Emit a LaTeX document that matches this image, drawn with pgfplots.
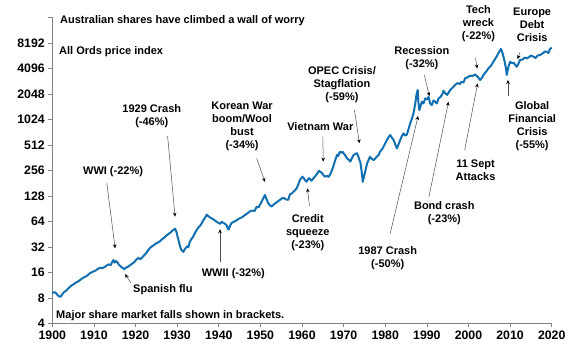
\documentclass[border=0pt]{standalone}
\usepackage{pgfplots}
\pgfplotsset{compat=1.18}
\usepackage{fontspec}
\setmainfont{Liberation Sans}
\usetikzlibrary{arrows.meta}
\definecolor{lineblue}{RGB}{18,112,176}
\definecolor{axgray}{RGB}{130,130,130}
\begin{document}
\begin{tikzpicture}[x=1pt,y=1pt]
\path[use as bounding box] (-52.3,-25.7) rectangle (517.7,323.3);
\begin{axis}[
  anchor=south west, at={(0,0)},
  scale only axis, width=499.4pt, height=306pt,
  xmin=1900, xmax=2020,
  ymode=log, log basis y=2,
  ymin=4, ymax=16384,
  axis lines*=left,
  axis line style={-,draw=axgray,line width=0.6pt},
  tick style={draw=axgray,line width=0.6pt},
  tick align=outside, major tick length=4pt,
  xtick={1900,1910,...,2020},
  xticklabels={1900,1910,1920,1930,1940,1950,1960,1970,1980,1990,2000,2010,2020},
  ytick={4,8,16,32,64,128,256,512,1024,2048,4096,8192,16384},
  yticklabels={4,8,16,32,64,128,256,512,1024,2048,4096,8192,{}},
  ticklabel style={font=\fontsize{12.3}{14}\selectfont\bfseries},
  minor tick num=0,
  clip=false,
]
\addplot[lineblue, line width=2pt, line join=round] coordinates {
(1900.0,9.06)(1900.4,9.32)(1900.8,9.19)(1901.2,8.69)(1901.6,8.34)(1902.0,8.22)
(1902.4,8.82)(1902.8,9.32)(1903.3,9.71)(1903.8,10.27)(1904.3,10.85)(1904.8,11.31)
(1905.2,11.63)(1905.7,12.13)(1906.2,12.47)(1906.7,13.00)(1907.2,13.55)(1907.6,13.93)
(1908.1,14.32)(1908.6,14.93)(1909.0,15.56)(1909.5,16.0)(1910.0,16.45)(1910.5,16.91)
(1911.0,17.63)(1911.5,18.13)(1912.0,17.88)(1912.5,18.38)(1913.0,19.16)(1913.5,19.84)
(1914.0,19.43)(1914.4,21.11)(1914.7,22.32)(1915.0,20.82)(1915.3,21.71)(1915.6,21.11)
(1916.0,19.70)(1916.5,18.64)(1917.0,17.88)(1917.3,17.39)(1917.7,18.13)(1918.2,18.64)
(1918.7,19.43)(1919.2,20.25)(1919.7,21.11)(1920.2,22.63)(1920.7,23.59)(1921.2,22.94)
(1921.6,23.92)(1922.0,25.28)(1922.5,26.72)(1923.0,29.04)(1923.5,31.12)(1924.0,32.45)
(1924.5,33.82)(1925.0,35.26)(1925.5,36.25)(1925.9,37.27)(1926.4,39.40)(1926.9,41.07)
(1927.4,43.41)(1927.9,45.25)(1928.4,47.18)(1928.8,49.18)(1929.1,50.56)(1929.5,52.35)
(1929.8,48.50)(1930.1,42.22)(1930.4,37.27)(1930.7,32.45)(1931.0,29.45)(1931.3,28.64)
(1931.5,27.86)(1931.8,29.86)(1932.1,31.12)(1932.4,32.45)(1932.7,31.56)(1933.0,36.25)
(1933.4,39.40)(1933.8,41.64)(1934.2,45.89)(1934.7,50.56)(1935.2,54.95)(1935.7,58.08)
(1936.2,64.90)(1936.7,70.52)(1937.1,76.64)(1937.5,73.52)(1938.0,70.52)(1938.5,68.60)
(1939.0,65.80)(1939.5,63.12)(1939.9,61.39)(1940.3,59.72)(1940.7,63.12)(1941.1,61.39)
(1941.5,59.72)(1941.9,57.28)(1942.2,51.98)(1942.4,51.27)(1942.7,56.49)(1943.1,61.39)
(1943.6,63.12)(1944.1,64.90)(1944.6,67.65)(1945.1,69.55)(1945.6,71.51)(1946.1,74.54)
(1946.6,77.71)(1947.1,81.00)(1947.6,84.45)(1948.1,85.63)(1948.6,84.45)(1949.1,95.01)
(1949.6,93.70)(1950.0,102.5)(1950.4,111.4)(1950.8,122.8)(1951.1,130.7)(1951.4,119.4)
(1951.8,106.9)(1952.2,99.73)(1952.7,95.67)(1953.2,101.1)(1953.7,105.4)(1954.2,109.9)
(1954.7,114.6)(1955.2,119.4)(1955.6,121.1)(1956.1,116.2)(1956.7,114.6)(1957.1,133.4)
(1957.6,137.2)(1958.2,147.0)(1958.7,156.5)(1959.1,173.6)(1959.5,196.7)(1960.1,215.3)
(1960.4,207.9)(1960.7,196.7)(1961.1,187.4)(1961.4,199.5)(1961.7,206.5)(1962.0,199.5)
(1962.3,192.7)(1962.7,205.1)(1963.1,215.3)(1963.6,232.3)(1964.1,252.5)(1964.4,245.6)
(1964.7,240.5)(1965.1,226.0)(1965.5,215.3)(1966.0,219.8)(1966.4,213.8)(1966.7,226.0)
(1967.1,249.0)(1967.5,282.1)(1967.9,328.6)(1968.2,362.0)(1968.4,388.0)(1968.7,377.4)
(1969.0,415.9)(1969.2,424.6)(1969.5,410.1)(1969.8,421.7)(1970.0,407.3)(1970.4,382.7)
(1970.8,354.6)(1971.2,342.5)(1971.6,324.0)(1972.0,357.0)(1972.4,388.0)(1972.8,398.9)
(1973.2,407.3)(1973.5,377.4)(1973.8,337.8)(1974.0,324.0)(1974.3,256.0)(1974.6,187.4)
(1974.8,207.9)(1975.1,235.6)(1975.4,274.4)(1975.7,315.2)(1976.0,337.8)(1976.3,369.6)
(1976.7,352.1)(1977.2,337.8)(1977.7,357.0)(1978.0,372.2)(1978.4,388.0)(1978.8,427.6)
(1979.2,451.9)(1979.6,487.7)(1980.0,533.8)(1980.4,584.1)(1980.8,630.3)(1981.2,666.2)
(1981.6,621.7)(1982.0,584.1)(1982.4,519.2)(1982.8,464.6)(1983.2,519.2)(1983.6,584.1)
(1984.0,648.0)(1984.4,699.4)(1984.8,657.1)(1985.2,675.6)(1985.6,786.9)(1986.0,916.5)
(1986.4,1038)(1986.8,1209)(1987.2,1552)(1987.5,1978)(1987.8,2272)(1987.95,1663)
(1988.2,1314)(1988.5,1468)(1988.8,1652)(1989.2,1574)(1989.6,1808)(1990.0,1758)
(1990.4,1884)(1990.8,1574)(1991.2,1510)(1991.6,1710)(1992.0,1652)(1992.4,1574)
(1992.8,1808)(1993.2,1859)(1993.7,2020)(1994.0,2226)(1994.4,2077)(1994.9,1992)
(1995.6,2272)(1996.2,2419)(1996.8,2610)(1997.4,2740)(1997.9,2665)(1998.3,2837)
(1998.8,2778)(1999.2,3126)(1999.7,3191)(2000.4,3350)(2001.0,3327)(2001.6,3468)
(2002.2,3259)(2002.8,2978)(2003.2,3148)(2003.6,3420)(2004.2,3717)(2004.8,4096)
(2005.4,4390)(2006.0,4905)(2006.6,5480)(2007.2,6165)(2007.8,6936)(2008.1,6383)
(2008.4,5634)(2008.7,4905)(2009.0,4096)(2009.2,3420)(2009.4,3822)(2009.6,4270)
(2010.0,4905)(2010.4,4705)(2010.8,4771)(2011.2,4513)(2011.6,4270)(2012.0,4640)
(2012.4,5149)(2013.0,5184)(2013.5,5480)(2014.0,5367)(2014.6,5557)(2015.0,5793)
(2015.6,5634)(2016.1,5405)(2016.6,5793)(2017.2,5874)(2017.8,6123)(2018.4,6472)
(2018.8,6428)(2019.2,6208)(2019.6,6936)(2020.0,7181)
};
\tikzset{lab/.style={font=\fontsize{11}{13}\selectfont\bfseries, align=center, inner sep=0pt},
         arr/.style={draw=black!70, line width=0.5pt, -{Stealth[length=4pt,width=3.5pt,black]}}}
% texts
\node[lab,anchor=west] at (axis cs:1901.85,14820) {Australian shares have climbed a wall of worry};
\node[lab,anchor=west] at (axis cs:1901.6,6430) {All Ords price index};
\node[lab,anchor=west] at (axis cs:1900.9,4.92) {Major share market falls shown in brackets.};
\node[lab] at (axis cs:1914.6,244) {WWI (-22\%)};
\node[lab,anchor=west] at (axis cs:1919.4,10.06) {Spanish flu};
\node[lab] at (axis cs:1923.9,1120) {1929 Crash\\(-46\%)};
\node[lab] at (axis cs:1945.6,855) {Korean War\\boom/Wool\\bust\\(-34\%)};
\node[lab] at (axis cs:1964.4,838) {Vietnam War};
\node[lab] at (axis cs:1969.6,2610) {OPEC Crisis/\\Stagflation\\(-59\%)};
\node[lab] at (axis cs:1961.4,46.9) {Credit\\squeeze\\(-23\%)};
\node[lab] at (axis cs:1988.8,5370) {Recession\\(-32\%)};
\node[lab] at (axis cs:2002.4,13680) {Tech\\wreck\\(-22\%)};
\node[lab] at (axis cs:2015.3,13490) {Europe\\Debt\\Crisis};
\node[lab] at (axis cs:2015.3,844) {Global\\Financial\\Crisis\\(-55\%)};
\node[lab] at (axis cs:2001.7,258) {11 Sept\\Attacks};
\node[lab] at (axis cs:1994.2,79.4) {Bond crash\\(-23\%)};
\node[lab] at (axis cs:1980.6,23.4) {1987 Crash\\(-50\%)};
\node[lab] at (axis cs:1943.5,15.6) {WWII (-32\%)};
% arrows
\draw[arr] (axis cs:1913.1,180) -- (axis cs:1915.1,30.7);
\draw[arr] (axis cs:1918.9,12.0) -- (axis cs:1917.5,15.2);
\draw[arr] (axis cs:1927.7,652) -- (axis cs:1929.5,72.5);
\draw[arr] (axis cs:1949.1,354) -- (axis cs:1951.1,187);
\draw[arr] (axis cs:1965,639) -- (axis cs:1965.1,324);
\draw[arr] (axis cs:1972.6,1325) -- (axis cs:1973.8,534);
\draw[arr] (axis cs:1961.8,97) -- (axis cs:1961.3,157);
\draw[arr] (axis cs:1989.4,3420) -- (axis cs:1990.6,1920);
\draw[arr] (axis cs:2001.7,5400) -- (axis cs:2002.1,4070);
\draw[arr] (axis cs:2012.4,6380) -- (axis cs:2011.8,5260);
\draw[arr] (axis cs:2009.5,1950) -- (axis cs:2009.5,2980);
\draw[arr] (axis cs:1999.1,446) -- (axis cs:2002.2,2720);
\draw[arr] (axis cs:1990.5,124) -- (axis cs:1995.2,1650);
\draw[arr] (axis cs:1981.2,46.2) -- (axis cs:1987.9,1120);
\draw[arr] (axis cs:1940.3,21.4) -- (axis cs:1940.3,51.6);
\end{axis}
\end{tikzpicture}
\end{document}
